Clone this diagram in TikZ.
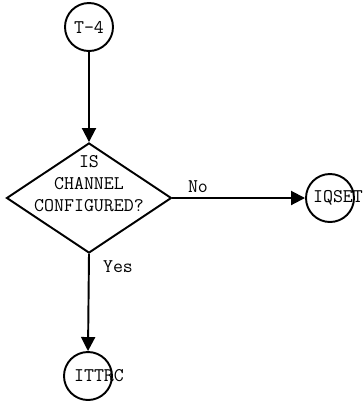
\documentclass[tikz,border=0pt]{standalone}
\usepackage{tikz}
\usetikzlibrary{positioning, arrows.meta, shapes.geometric}

\begin{document}
\begin{tikzpicture}[
    conn/.style={circle, draw, line width=1.1pt, minimum size=0.96cm, inner sep=0pt},
    decide/.style={diamond, draw, line width=1.1pt, minimum width=3.3cm, minimum height=2.2cm, inner sep=0pt},
    txt/.style={font=\fontsize{11}{12.5}\selectfont\ttfamily, align=center, inner sep=0pt},
    arr/.style={-{Triangle[length=0.28cm, width=0.28cm]}, line width=1.1pt},
]
\useasboundingbox (0,0) rectangle (7.28,-8.04);

\node[conn, txt] (t4) at (1.78, -0.54) {T-4};

\node[decide] (chk) at (1.78, -3.96) {};
\node[txt] (chktxt) at ([yshift=0.28cm]chk.center) {IS\\CHANNEL\\CONFIGURED?};

\node[conn] (iqset) at (6.6, -3.96) {};
\node[txt] (iqsettxt) at ([xshift=0.16cm]iqset.center) {IQSET};

\node[conn] (ittrc) at (1.76, -7.52) {};
\node[txt] (ittrctxt) at ([xshift=0.22cm]ittrc.center) {ITTRC};

\draw[arr] (t4.south) -- (chk.north);
\draw[arr] (chk.east) -- (iqset.west);
\draw[arr] (chk.south) -- (ittrc.north);

\node[txt] (no) at (3.96, -3.74) {No};
\node[txt] (yes) at (2.36, -5.34) {Yes};

\end{tikzpicture}
\end{document}
